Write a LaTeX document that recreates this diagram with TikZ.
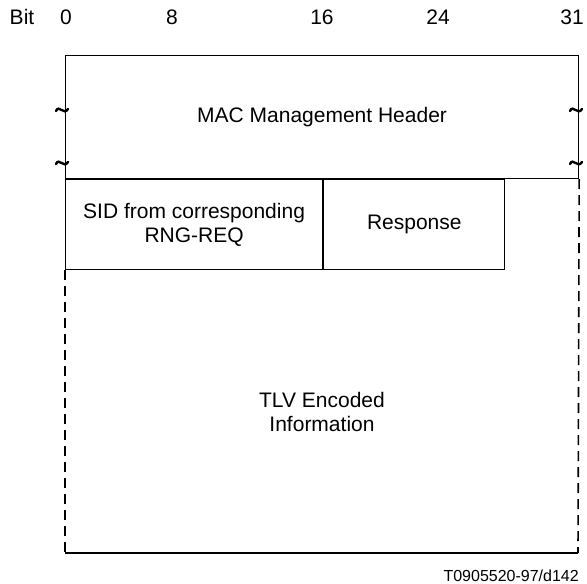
\documentclass[tikz,border=0pt]{standalone}
\usepackage{fontspec}
\setmainfont{Liberation Sans}
\usetikzlibrary{positioning}
\definecolor{frame}{RGB}{0,0,0}

\tikzset{
  field/.style={draw=frame, line width=1.2pt, inner sep=0pt, align=center,
                font=\fontsize{21}{24}\selectfont},
  bitlabel/.style={inner sep=0pt, font=\fontsize{21}{24}\selectfont},
  gap/.style={draw=frame, line width=1.6pt, dash pattern=on 10pt off 6pt},
  squiggle/.style={draw=frame, line width=2.4pt, line cap=round}
}

\begin{document}
\begin{tikzpicture}[x=1pt, y=-1pt]
  \useasboundingbox (0,0) rectangle (587,584);

  % bit ruler
  \node[bitlabel] (bit) at (22,17) {Bit};
  \foreach \b/\x in {0/66, 8/172, 16/322, 24/438, 31/572}
    \node[bitlabel] (b\b) at (\x,17) {\b};

  % header and fixed fields
  \node[field, minimum width=513pt, minimum height=123pt, anchor=north west]
    (hdr) at (65,55) {MAC Management Header};
  \node[field, minimum width=257pt, minimum height=90pt, anchor=north west]
    (sid) at (hdr.south west) {SID from corresponding\\RNG-REQ};
  \node[field, minimum width=181pt, minimum height=90pt, anchor=north west]
    (resp) at (sid.north east) {Response};

  % variable length part
  \coordinate (tl) at (sid.south west);
  \coordinate (tr) at (hdr.south east);
  \coordinate (bl) at (65,553);
  \coordinate (br) at (578,553);
  \draw[gap] (tl) -- (bl);
  \draw[gap] (tr) -- (br);
  \draw[frame, line width=1.6pt] (bl) -- (br);
  \node[inner sep=0pt, align=center, font=\fontsize{21}{24}\selectfont]
    (tlv) at (322,412) {TLV Encoded\\Information};

  % break marks
  \foreach \x in {62,576}
    \foreach \y in {110,163}
      \draw[squiggle] (\x-6,\y+1) .. controls (\x-3,\y-6) and (\x+2,\y+6) .. (\x+6,\y-1);

  \node[inner sep=0pt, anchor=east, font=\fontsize{16}{19}\selectfont]
    (ref) at (579,576) {T0905520-97/d142};
\end{tikzpicture}
\end{document}
